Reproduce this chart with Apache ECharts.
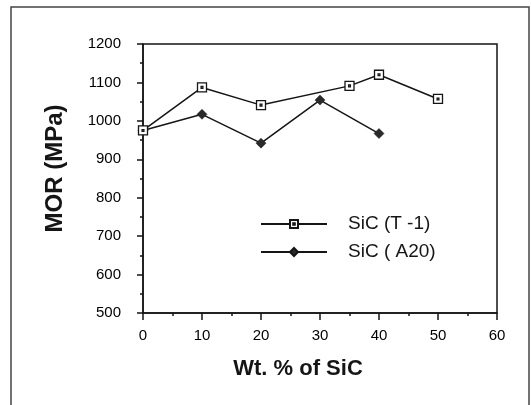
<!DOCTYPE html>
<html>
<head>
<meta charset="utf-8">
<script src="https://cdn.jsdelivr.net/npm/echarts@6/dist/echarts.min.js"></script>
<style>
html,body{margin:0;padding:0;background:#fff;}
#chart{width:531px;height:405px;}
</style>
</head>
<body>
<div id="chart"></div>
<script>
// Data
const xT1 = [0, 10, 20, 35, 40, 50];
const yT1 = [975, 1087, 1041, 1091, 1120, 1057];
const xA20 = [0, 10, 20, 30, 40];
const yA20 = [975, 1017, 942, 1054, 967];
const seriesNames = ['SiC (T -1)', 'SiC ( A20)'];
const xTicks = [0, 10, 20, 30, 40, 50, 60];
const yTicks = [500, 600, 700, 800, 900, 1000, 1100, 1200];

const pair = (xs, ys) => xs.map((x, i) => [x, ys[i]]);
const FONT = '"Liberation Sans", Arial, sans-serif';
const INK = '#151515';

const chart = echarts.init(document.getElementById('chart'), null, {renderer: 'canvas'});
chart.setOption({
  animation: false,
  backgroundColor: '#fff',
  textStyle: {fontFamily: FONT},
  graphic: [{
    type: 'rect',
    shape: {x: 11, y: 7, width: 518, height: 420},
    style: {fill: 'none', stroke: '#444', lineWidth: 1.5},
    silent: true
  }],
  grid: {
    left: 143, right: 34, top: 44, bottom: 92,
    show: true, borderColor: INK, borderWidth: 1.5, backgroundColor: 'transparent'
  },
  legend: {
    orient: 'vertical',
    left: 260, top: 214, padding: 0,
    itemWidth: 66, itemHeight: 10, itemGap: 8,
    data: seriesNames,
    textStyle: {fontFamily: FONT, fontSize: 19, color: INK, lineHeight: 20, padding: [0, 0, 0, 16]},
    inactiveColor: INK
  },
  xAxis: {
    type: 'value',
    min: xTicks[0], max: xTicks[xTicks.length - 1], interval: 10,
    name: 'Wt. % of SiC',
    nameLocation: 'middle',
    nameGap: 45,
    nameTextStyle: {fontFamily: FONT, fontSize: 22, fontWeight: 'bold', color: INK, padding: [0, 44, 0, 0]},
    axisLine: {lineStyle: {color: INK, width: 1.5}},
    axisTick: {show: true, inside: false, length: 7, lineStyle: {color: INK, width: 1.5}},
    minorTick: {show: true, splitNumber: 2, length: 3, lineStyle: {color: INK, width: 1.5}},
    axisLabel: {fontFamily: FONT, fontSize: 15, color: '#000', margin: 15},
    splitLine: {show: false}
  },
  yAxis: {
    type: 'value',
    min: yTicks[0], max: yTicks[yTicks.length - 1], interval: 100,
    name: 'MOR (MPa)',
    nameLocation: 'middle',
    nameGap: 76,
    nameTextStyle: {fontFamily: FONT, fontSize: 24, fontWeight: 'bold', color: INK, padding: [0, 0, 0, 20]},
    axisLine: {show: true, lineStyle: {color: INK, width: 1.5}},
    axisTick: {show: true, inside: false, length: 6, lineStyle: {color: INK, width: 1.5}},
    minorTick: {show: true, splitNumber: 2, length: 3, lineStyle: {color: INK, width: 1.5}},
    axisLabel: {fontFamily: FONT, fontSize: 15, color: '#000', margin: 22, formatter: v => String(v)},
    splitLine: {show: false}
  },
  series: [
    {
      name: seriesNames[0],
      type: 'line',
      data: pair(xT1, yT1),
      symbol: 'path://M0,0H10V10H0ZM4,4H6V6H4Z',
      symbolSize: 9,
      showAllSymbol: true,
      lineStyle: {color: INK, width: 1.5},
      itemStyle: {color: '#fff', borderColor: INK, borderWidth: 1.3},
      z: 3
    },
    {
      name: seriesNames[1],
      type: 'line',
      data: pair(xA20, yA20),
      symbol: 'diamond',
      symbolSize: 10,
      showAllSymbol: true,
      lineStyle: {color: INK, width: 1.5},
      itemStyle: {color: '#2a2a2a', borderColor: INK, borderWidth: 0.5},
      z: 2
    }
  ]
});
</script>
</body>
</html>
